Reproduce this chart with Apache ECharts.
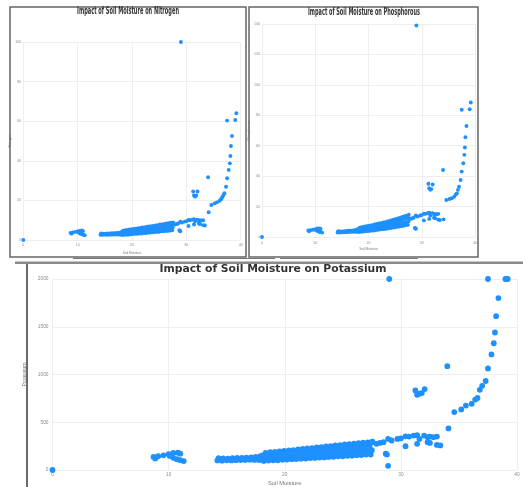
<!DOCTYPE html>
<html>
<head>
<meta charset="utf-8">
<script src="https://cdn.jsdelivr.net/npm/echarts@6/dist/echarts.min.js"></script>
<style>
html,body{margin:0;padding:0;background:#fff;}
#c{width:523px;height:487px;}
</style>
</head>
<body>
<div id="c"></div>
<script>
// ---- data: one sample per index (soil moisture, N, P, K) ----
var titles = ['Impact of Soil Moisture on Nitrogen', 'Impact of Soil Moisture on Phosphorous', 'Impact of Soil Moisture on Potassium'];
var xName = 'Soil Moisture';
var yNames = ['Nitrogen', 'Phosphorous', 'Potassium'];
var xTicks = [0, 10, 20, 30, 40];
var nTicks = [0, 20, 40, 60, 80, 100];
var pTicks = [0, 20, 40, 60, 80, 100, 120, 140];
var kTicks = [0, 500, 1000, 1500, 2000];

var moisture = [
  0,
  8.7, 8.85, 9.1, 9.55, 10.0, 10.4, 10.8, 11.0, 10.1, 10.4, 10.7, 11.0, 11.3,
  14.2, 14.3, 14.6, 14.7, 15.0, 15.1, 15.4, 15.5, 15.8, 15.9, 16.2, 16.3, 16.6, 16.7, 17.0, 17.1, 17.4, 17.5, 17.8, 17.9,
  18.2, 18.3, 18.1, 18.35, 18.6, 18.7, 18.5, 18.75, 19.0, 19.1, 18.9, 19.15, 19.4, 19.5, 19.3, 19.55,
  19.8, 19.9, 19.7, 19.95, 20.2, 20.3, 20.1, 20.35, 20.6, 20.7, 20.5, 20.75, 21.0, 21.1, 20.9, 21.15,
  21.4, 21.5, 21.3, 21.55, 21.8, 21.9, 21.7, 21.95, 22.2, 22.3, 22.1, 22.35, 22.6, 22.7, 22.5, 22.75,
  23.0, 23.1, 22.9, 23.15, 23.4, 23.5, 23.3, 23.55, 23.8, 23.9, 23.7, 23.95, 24.2, 24.3, 24.1, 24.35,
  24.6, 24.7, 24.5, 24.75, 25.0, 25.1, 24.9, 25.15, 25.4, 25.5, 25.3, 25.55, 25.8, 25.9, 25.7, 25.95,
  26.2, 26.3, 26.1, 26.35, 26.6, 26.7, 26.5, 26.75, 27.0, 27.1, 26.9, 27.15, 27.4, 27.5, 27.3, 27.55,
  27.5, 27.9, 28.2, 28.5, 28.9, 29.2, 29.7, 30.0, 30.4, 30.7, 31.1, 31.4, 31.6, 32.0, 32.3, 32.5, 32.8, 33.1,
  31.4, 32.3, 32.5, 33.1, 33.4, 30.4, 28.7, 28.8, 28.9,
  29.0, 34.0, 31.25, 31.4, 31.6, 31.8, 32.05,
  34.1, 34.6, 35.2, 35.6, 36.1, 36.4, 36.6, 36.8, 37.0, 37.3, 37.5, 37.8, 38.0, 38.1, 38.2, 38.4, 37.5, 39.0, 39.2
];
var nitrogen = [
  0,
  3.6, 3.2, 3.8, 4.1, 4.3, 4.7, 4.8, 4.5, 3.9, 3.3, 3.0, 2.7, 2.4,
  2.6, 3.3, 2.6, 3.2, 2.7, 3.2, 2.6, 3.3, 2.7, 3.3, 2.7, 3.4, 2.8, 3.4, 2.8, 3.5, 2.8, 3.6, 2.7, 3.8,
  2.5, 3.2, 4.1, 4.7, 2.6, 3.4, 4.1, 5.0, 2.7, 3.5, 4.3, 5.1, 2.7, 3.7, 4.4, 5.3,
  2.9, 3.7, 4.6, 5.4, 3.0, 3.9, 4.7, 5.6, 3.1, 3.9, 4.9, 5.7, 3.1, 4.1, 5.0, 5.9,
  3.3, 4.2, 5.2, 6.1, 3.3, 4.4, 5.3, 6.3, 3.5, 4.4, 5.5, 6.4, 3.5, 4.6, 5.6, 6.7,
  3.7, 4.7, 5.8, 6.8, 3.8, 4.9, 5.9, 7.0, 3.9, 4.9, 6.1, 7.1, 4.0, 5.1, 6.2, 7.4,
  4.1, 5.2, 6.4, 7.5, 4.2, 5.4, 6.5, 7.8, 4.4, 5.5, 6.8, 7.9, 4.4, 5.7, 6.9, 8.1,
  4.6, 5.8, 7.1, 8.3, 4.6, 6.0, 7.2, 8.5, 4.8, 6.1, 7.4, 8.7, 4.9, 6.3, 7.6, 8.9,
  8.3, 7.8, 8.1, 8.3, 9.3, 8.8, 9.3, 9.5, 10.1, 10.0, 10.3, 10.5, 9.3, 10.3, 9.8, 10.0, 9.8, 10.0,
  7.8, 8.3, 8.1, 7.5, 7.3, 7.1, 5.0, 4.6, 4.4,
  100, 31.7, 24.5, 22.5, 22.0, 22.5, 24.5,
  14.0, 17.7, 18.5, 19.0, 19.8, 20.6, 21.6, 22.6, 23.6, 26.9, 31.2, 35.4, 38.7, 42.4, 47.5, 52.5, 60.3, 60.6, 64.0
];
var phosphorous = [
  0,
  4.3, 3.8, 4.5, 4.8, 5.2, 5.6, 5.7, 5.3, 4.6, 4.0, 3.5, 3.2, 2.9,
  3.0, 3.8, 3.0, 3.7, 3.1, 3.7, 3.1, 3.8, 3.2, 3.9, 3.3, 4.1, 3.4, 4.2, 3.5, 4.3, 3.5, 4.6, 3.5, 4.9,
  3.3, 4.2, 5.3, 6.1, 3.5, 4.5, 5.4, 6.5, 3.6, 4.6, 5.7, 6.7, 3.7, 4.9, 5.9, 7.1,
  3.9, 4.9, 6.2, 7.2, 4.0, 5.3, 6.3, 7.6, 4.2, 5.4, 6.7, 7.8, 4.3, 5.7, 6.9, 8.2,
  4.6, 5.8, 7.2, 8.5, 4.7, 6.1, 7.4, 8.9, 5.0, 6.3, 7.8, 9.1, 5.1, 6.6, 8.0, 9.6,
  5.3, 6.8, 8.4, 9.8, 5.5, 7.1, 8.6, 10.2, 5.8, 7.3, 9.0, 10.5, 5.9, 7.7, 9.3, 11.0,
  6.2, 7.9, 9.7, 11.3, 6.4, 8.2, 10.0, 11.8, 6.7, 8.5, 10.4, 12.2, 6.9, 8.9, 10.7, 12.7,
  7.2, 9.1, 11.2, 13.1, 7.4, 9.5, 11.5, 13.6, 7.8, 9.8, 12.0, 14.0, 8.0, 10.2, 12.4, 14.6,
  12.7, 11.9, 12.3, 12.7, 14.1, 13.4, 14.1, 14.4, 15.3, 15.2, 15.7, 15.9, 14.1, 15.7, 14.9, 15.2, 14.9, 15.2,
  11.9, 12.7, 12.3, 11.4, 11.2, 10.9, 6.0, 5.6, 5.4,
  139, 44, 35, 32, 31, 31.5, 34.5,
  11.6, 24.3, 25.0, 25.5, 26.5, 28.0, 28.7, 31.0, 33.0, 37.5, 43.0, 48.5, 54.0, 58.8, 65.6, 73.0, 83.6, 84.0, 88.4
];
var potassium = [
  0,
  137, 120, 144, 154, 165, 178, 181, 171, 147, 127, 113, 103, 93,
  100, 125, 98, 122, 102, 120, 100, 124, 103, 126, 104, 128, 106, 130, 108, 133, 106, 138, 104, 145,
  95, 121, 154, 178, 99, 128, 155, 187, 101, 131, 162, 189, 102, 136, 163, 196,
  108, 136, 170, 199, 109, 143, 172, 206, 113, 144, 179, 209, 114, 149, 181, 216,
  119, 151, 188, 220, 120, 157, 190, 227, 125, 159, 196, 230, 126, 164, 199, 237,
  131, 166, 205, 240, 132, 172, 207, 247, 137, 173, 214, 250, 138, 179, 216, 257,
  143, 181, 222, 260, 144, 186, 225, 267, 149, 188, 231, 270, 150, 194, 233, 277,
  155, 195, 240, 280, 156, 201, 242, 287, 161, 203, 248, 290, 162, 208, 251, 297,
  291, 274, 284, 291, 325, 309, 325, 332, 353, 350, 360, 366, 325, 360, 343, 350, 343, 350,
  274, 291, 284, 263, 257, 250, 171, 161, 44,
  2000, 1087, 833, 788, 799, 806, 847,
  435, 607, 634, 675, 693, 737, 754, 840, 881, 932, 1063, 1210, 1327, 1440, 1611, 1800, 2000, 2000, 2000
];

function pairs(ys) {
  var out = [];
  for (var i = 0; i < moisture.length; i++) out.push([moisture[i], ys[i]]);
  return out;
}
function plain(v) { return String(v); }

// ---- layout ----
var grids = [
  {left: 23.3, top: 42, width: 217.4, height: 198},
  {left: 262, top: 24, width: 213, height: 213},
  {left: 52.5, top: 279, width: 464.5, height: 194.3}
];
var small = [true, true, false];
var yTickSets = [nTicks, pTicks, kTicks];
var xNameGap = [12, 11, 10];
var yNameGap = [9, 9, 20];
var xLabMargin = [3, 4, 2];
var yLabMargin = [2, 2, 4];

var xAxes = [], yAxes = [], series = [];
var ySets = [nitrogen, phosphorous, potassium];
for (var g = 0; g < 3; g++) {
  var t = yTickSets[g];
  xAxes.push({
    gridIndex: g, type: 'value', min: xTicks[0], max: xTicks[xTicks.length - 1], interval: xTicks[1] - xTicks[0],
    axisLine: {show: false}, axisTick: {show: false},
    axisLabel: {fontSize: small[g] ? 3.6 : 4.8, color: '#8a8a8a', margin: xLabMargin[g], fontFamily: 'Liberation Sans', formatter: plain},
    splitLine: {show: true, lineStyle: {color: '#eeeeee', width: 1}},
    name: xName, nameLocation: 'middle', nameGap: xNameGap[g],
    nameTextStyle: {fontSize: small[g] ? 3.2 : 5.8, color: '#777', fontFamily: 'Liberation Sans'}
  });
  yAxes.push({
    gridIndex: g, type: 'value', min: t[0], max: t[t.length - 1], interval: t[1] - t[0],
    axisLine: {show: false}, axisTick: {show: false},
    axisLabel: {fontSize: small[g] ? 3.6 : 4.8, color: '#8a8a8a', margin: yLabMargin[g], fontFamily: 'Liberation Sans', formatter: plain},
    splitLine: {show: true, lineStyle: {color: '#eeeeee', width: 1}},
    name: yNames[g], nameLocation: 'middle', nameGap: yNameGap[g],
    nameTextStyle: {fontSize: small[g] ? 3.4 : 5.2, color: '#777', fontFamily: 'Liberation Sans'}
  });
  series.push({
    type: 'scatter', xAxisIndex: g, yAxisIndex: g,
    data: pairs(ySets[g]),
    symbolSize: small[g] ? 3.9 : 5.8,
    itemStyle: {color: '#1e90ff', opacity: 1},
    animation: false, silent: true
  });
}

// measure text to squeeze titles into their boxes
var mctx = document.createElement('canvas').getContext('2d');
function fitScale(text, font, target) {
  mctx.font = font;
  var w = mctx.measureText(text).width;
  return w > 0 ? target / w : 1;
}
var tFontTop = 'bold 10px "DejaVu Sans Condensed"';
var tFontBot = 'bold 10.5px "DejaVu Sans"';
function titleEl(text, cx, cy, font, width) {
  return {
    type: 'text', x: cx, y: cy, scaleX: fitScale(text, font, width), z: 10,
    style: {text: text, font: font, fill: '#333', textAlign: 'center', textVerticalAlign: 'middle', align: 'center', verticalAlign: 'middle'}
  };
}
function line(x1, y1, x2, y2, color, w) {
  return {type: 'line', shape: {x1: x1, y1: y1, x2: x2, y2: y2}, style: {stroke: color, lineWidth: w}, z: 5};
}

var graphic = [
  {type: 'rect', shape: {x: 10, y: 7, width: 236, height: 250}, style: {fill: 'none', stroke: '#666', lineWidth: 1.5}, z: 5},
  {type: 'rect', shape: {x: 249, y: 7, width: 229, height: 250}, style: {fill: 'none', stroke: '#666', lineWidth: 1.5}, z: 5},
  line(73, 258.5, 275, 258.5, '#777', 1),
  line(280, 258.5, 418, 258.5, '#777', 1),
  line(15, 262.8, 523, 262.8, '#8a8a8a', 2.4),
  line(27, 264, 27, 487, '#6a6a6a', 2),
  titleEl(titles[0], 128, 11.5, tFontTop, 102),
  titleEl(titles[1], 364, 12, tFontTop, 112),
  titleEl(titles[2], 273, 269.5, tFontBot, 227)
];

var chart = echarts.init(document.getElementById('c'), null, {renderer: 'canvas'});
chart.setOption({
  backgroundColor: '#ffffff',
  animation: false,
  grid: grids,
  xAxis: xAxes,
  yAxis: yAxes,
  series: series,
  graphic: graphic
});
</script>
</body>
</html>
